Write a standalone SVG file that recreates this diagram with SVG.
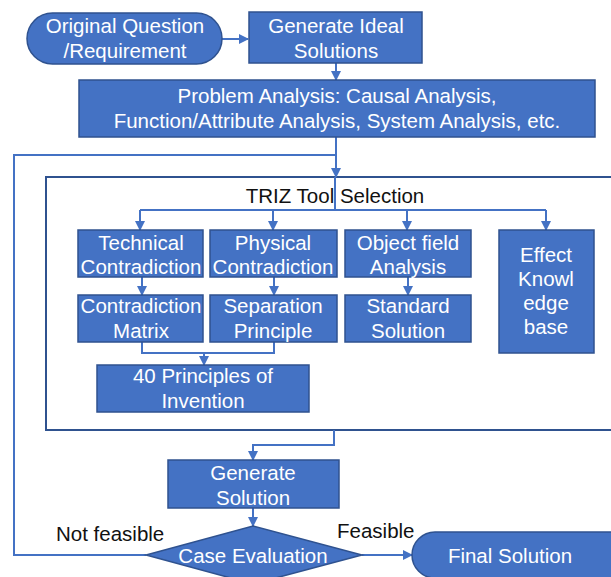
<svg xmlns="http://www.w3.org/2000/svg" width="611" height="577" viewBox="0 0 611 577">
<style>
.n{fill:#4472C4;stroke:#2F528F;stroke-width:1.5}
.t{font-family:"Liberation Sans",Arial,sans-serif;font-size:20.5px;fill:#fff;text-anchor:middle}
.k{font-family:"Liberation Sans",Arial,sans-serif;font-size:20.5px;fill:#111}
.c{fill:none;stroke:#4472C4;stroke-width:2}
</style>
<defs>
<marker id="a" markerUnits="userSpaceOnUse" markerWidth="10" markerHeight="10" refX="9" refY="5" orient="auto">
<path d="M0,0 L10,5 L0,10 z" fill="#4472C4"/>
</marker>
</defs>
<rect width="611" height="577" fill="#fff"/>
<g id="triz">
<rect x="46" y="177" width="580" height="253" fill="#fff" stroke="#2F528F" stroke-width="2"/>
<text class="k" x="335" y="203" text-anchor="middle">TRIZ Tool Selection</text>
</g>
<g id="connectors">
<path class="c" d="M222,39 H248" marker-end="url(#a)"/>
<path class="c" d="M336,63 V80" marker-end="url(#a)"/>
<path class="c" d="M336,137 V177" marker-end="url(#a)"/>
<path class="c" d="M146,555 H14 V155 H336"/>
<path class="c" d="M335,177 V210 M140,210 H546"/>
<path class="c" d="M140,210 V230" marker-end="url(#a)"/>
<path class="c" d="M273,210 V230" marker-end="url(#a)"/>
<path class="c" d="M407,210 V230" marker-end="url(#a)"/>
<path class="c" d="M546,210 V230" marker-end="url(#a)"/>
<path class="c" d="M142,277 V295" marker-end="url(#a)"/>
<path class="c" d="M274,277 V295" marker-end="url(#a)"/>
<path class="c" d="M408,277 V295" marker-end="url(#a)"/>
<path class="c" d="M142,342 V353 H274 V342"/>
<path class="c" d="M204,353 V365" marker-end="url(#a)"/>
<path class="c" d="M334,430 V445 H253 V460" marker-end="url(#a)"/>
<path class="c" d="M253,508 V526" marker-end="url(#a)"/>
<path class="c" d="M362,555 H412" marker-end="url(#a)"/>
</g>
<g id="original">
<rect class="n" x="27" y="13" width="195" height="51" rx="25.5"/>
<text class="t" x="125" y="33">Original Question</text>
<text class="t" x="125" y="58">/Requirement</text>
</g>
<g id="ideal">
<rect class="n" x="249" y="12" width="173" height="51"/>
<text class="t" x="336" y="33">Generate Ideal</text>
<text class="t" x="336" y="58">Solutions</text>
</g>
<g id="analysis">
<rect class="n" x="79" y="80" width="516" height="57"/>
<text class="t" x="337" y="103">Problem Analysis: Causal Analysis,</text>
<text class="t" x="337" y="128">Function/Attribute Analysis, System Analysis, etc.</text>
</g>
<g id="technical">
<rect class="n" x="78" y="230" width="125" height="47"/>
<text class="t" x="141" y="250">Technical</text>
<text class="t" x="141" y="274">Contradiction</text>
</g>
<g id="physical">
<rect class="n" x="210" y="230" width="127" height="47"/>
<text class="t" x="273" y="250">Physical</text>
<text class="t" x="273" y="274">Contradiction</text>
</g>
<g id="objectfield">
<rect class="n" x="345" y="230" width="126" height="47"/>
<text class="t" x="408" y="250">Object field</text>
<text class="t" x="408" y="274">Analysis</text>
</g>
<g id="effect">
<rect class="n" x="499" y="230" width="95" height="123"/>
<text class="t" x="546" y="262">Effect</text>
<text class="t" x="546" y="286">Knowl</text>
<text class="t" x="546" y="310">edge</text>
<text class="t" x="546" y="334">base</text>
</g>
<g id="matrix">
<rect class="n" x="78" y="295" width="125" height="47"/>
<text class="t" x="141" y="313">Contradiction</text>
<text class="t" x="141" y="338">Matrix</text>
</g>
<g id="separation">
<rect class="n" x="210" y="295" width="127" height="47"/>
<text class="t" x="273" y="313">Separation</text>
<text class="t" x="273" y="338">Principle</text>
</g>
<g id="standard">
<rect class="n" x="345" y="295" width="126" height="47"/>
<text class="t" x="408" y="313">Standard</text>
<text class="t" x="408" y="338">Solution</text>
</g>
<g id="principles">
<rect class="n" x="97" y="365" width="212" height="47"/>
<text class="t" x="203" y="383">40 Principles of</text>
<text class="t" x="203" y="408">Invention</text>
</g>
<g id="generate">
<rect class="n" x="168" y="460" width="171" height="48"/>
<text class="t" x="253" y="480">Generate</text>
<text class="t" x="253" y="505">Solution</text>
</g>
<g id="evaluation">
<polygon class="n" points="253,526 362,555 253,584 146,555"/>
<text class="t" x="253" y="563">Case Evaluation</text>
</g>
<g id="final">
<rect class="n" x="412" y="532" width="230" height="46" rx="23"/>
<text class="t" x="510" y="563">Final Solution</text>
</g>
<g id="labels">
<text class="k" x="56" y="541">Not feasible</text>
<text class="k" x="337" y="538">Feasible</text>
</g>
</svg>
